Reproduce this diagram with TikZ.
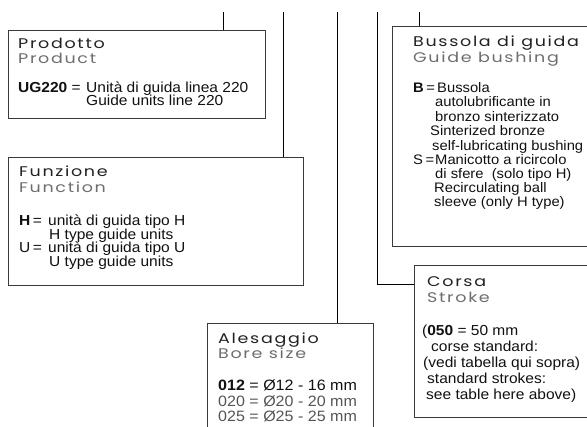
\documentclass[tikz,border=0pt]{standalone}
\usepackage{fontspec}
\newfontfamily\hf[FakeStretch=1.25,LetterSpace=12]{Poppins}
\newfontfamily\bodyf[FakeStretch=1.07]{Liberation Sans}
\definecolor{boxc}{HTML}{3A3A3A}
\definecolor{hdark}{HTML}{222222}
\definecolor{hgray}{HTML}{6E6E6E}
\definecolor{txt}{HTML}{111111}
\definecolor{lgray}{HTML}{555555}
\tikzset{
  box/.style={draw=boxc, line width=1.3pt, anchor=north west, inner sep=0pt},
  conn/.style={draw=black, line width=1pt},
  hd/.style={anchor=base west, inner sep=0pt, font=\hf\fontsize{14}{14}\selectfont, text=hdark},
  hg/.style={hd, text=hgray},
  tx/.style={anchor=base west, inner sep=0pt, font=\bodyf\fontsize{14.5}{14.5}\selectfont, text=txt},
  txs/.style={tx, font=\bodyf\fontsize{13.8}{13.8}\selectfont},
  txl/.style={tx, font=\bodyf\fontsize{15}{15}\selectfont},
}
\begin{document}
\begin{tikzpicture}[x=1pt,y=-1pt]
\useasboundingbox (0,0) rectangle (587,427);
\clip (0,0) rectangle (587,427);
\fill[white] (0,0) rectangle (587,427);

% boxes
\node[box, minimum width=257pt, minimum height=88pt] (prod) at (8,30) {};
\node[box, minimum width=295pt, minimum height=128pt] (funz) at (8,157) {};
\node[box, minimum width=200pt, minimum height=220pt] (buss) at (392,26) {};
\node[box, minimum width=180pt, minimum height=152pt] (cors) at (414,265) {};
\node[box, minimum width=166pt, minimum height=120pt] (ales) at (207,323) {};

% connectors
\coordinate (tA) at (223,12);
\coordinate (tB) at (283,12);
\coordinate (tC) at (337,12);
\coordinate (tD) at (377,12);
\coordinate (tE) at (419,12);
\coordinate (dJ) at (377,285);
\draw[conn] (tA) -- (tA |- prod.north);
\draw[conn] (tB) -- (tB |- funz.north);
\draw[conn] (tC) -- (tC |- ales.north);
\draw[conn] (tE) -- (tE |- buss.north);
\draw[conn] (tD) -- (dJ) -- (dJ -| cors.west);

% Prodotto
\node[hd] (p1) at (18,49) {Prodotto};
\node[hg] (p2) at (18,64) {Product};
\node[tx] (p3) at (18,93) {\bfseries UG220\mdseries\ =};
\node[tx] (p4) at (86,93) {Unità di guida linea 220};
\node[tx] (p5) at (86,106) {Guide units line 220};

% Funzione
\node[hd] (f1) at (19,177) {Funzione};
\node[hg] (f2) at (19,193) {Function};
\node[tx] (f3) at (19,225.5) {\bfseries H\mdseries\hspace{2.5pt}=};
\node[tx] (f4) at (48,225.5) {unità di guida tipo H};
\node[tx] (f5) at (49,239.5) {H type guide units};
\node[tx] (f6) at (19,253) {U\hspace{2.5pt}=};
\node[tx] (f7) at (48,253) {unità di guida tipo U};
\node[tx] (f8) at (49,267) {U type guide units};

% Bussola
\node[hd] (b1) at (413,47) {Bussola di guida};
\node[hg] (b2) at (413,63) {Guide bushing};
\node[txs] (b3) at (413,92.5) {\bfseries B\mdseries\hspace{2.5pt}=};
\node[txs] (b4) at (437,92.5) {Bussola};
\node[txs] (b5) at (435,107) {autolubrificante in};
\node[txs] (b6) at (435,121.5) {bronzo sinterizzato};
\node[txs] (b7) at (430,136) {Sinterized bronze};
\node[txs] (b8) at (432,150.5) {self-lubricating bushing};
\node[txs] (b9) at (413,164.5) {S\hspace{2.5pt}=};
\node[txs] (b10) at (435,164.5) {Manicotto a ricircolo};
\node[txs] (b11) at (435,178.5) {di sfere\ \ (solo tipo H)};
\node[txs] (b12) at (434,192.5) {Recirculating ball};
\node[txs] (b13) at (434,207) {sleeve\ (only H type)};

% Corsa
\node[hd] (c1) at (427,287) {Corsa};
\node[hg] (c2) at (427,302.5) {Stroke};
\node[tx] (c3) at (422,336) {(\textbf{050} = 50 mm};
\node[tx] (c4) at (431,352) {corse standard:};
\node[tx] (c5) at (423,368) {(vedi tabella qui sopra)};
\node[tx] (c6) at (427,384) {standard strokes:};
\node[tx] (c7) at (426,400) {see table here above)};

% Alesaggio
\node[hd] (a1) at (218,343.5) {Alesaggio};
\node[hg] (a2) at (218,358.5) {Bore size};
\node[txl] (a3) at (218,391) {\textbf{012} = Ø12 - 16 mm};
\node[txl, text=lgray] (a4) at (218,407) {020 = Ø20 - 20 mm};
\node[txl, text=lgray] (a5) at (218,422) {025 = Ø25 - 25 mm};
\end{tikzpicture}
\end{document}
